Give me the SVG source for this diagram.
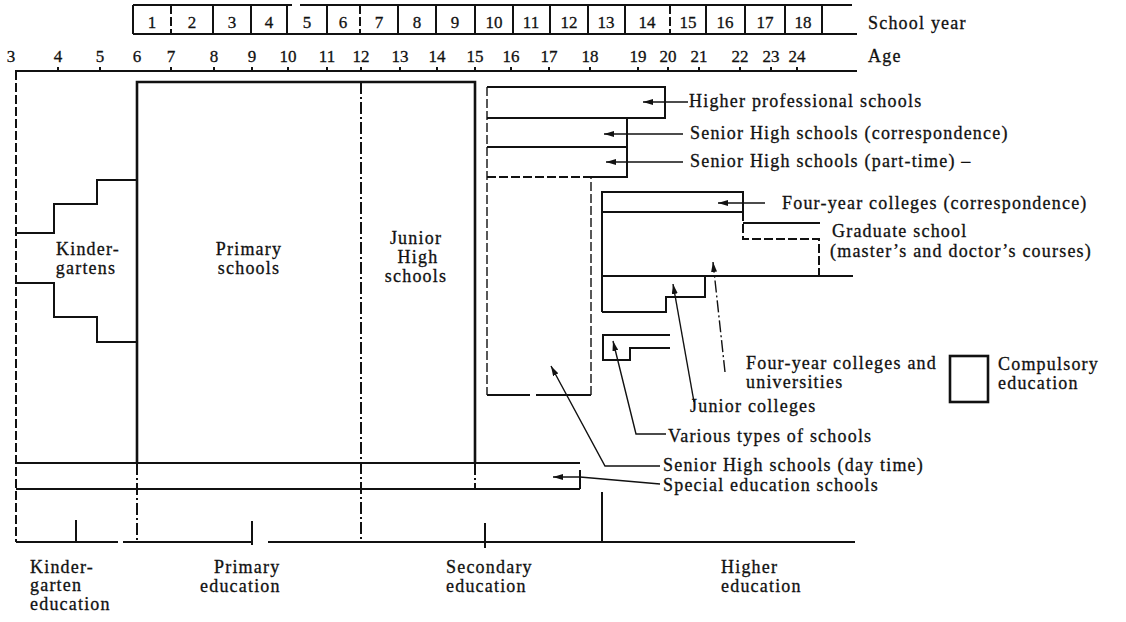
<svg xmlns="http://www.w3.org/2000/svg" width="1126" height="622" viewBox="0 0 1126 622">
<style>
.ln{stroke:#111;stroke-width:2;fill:none}
.tk{stroke:#111;stroke-width:2.6;fill:none}
.th{stroke:#111;stroke-width:1.4;fill:none}
.ds{stroke-dasharray:9 3}
.dd{stroke-dasharray:12 3 2 3}
.t{font-family:"Liberation Serif","Times New Roman",serif;font-size:18px;letter-spacing:1.2px;fill:#111;stroke:#111;stroke-width:0.3}
.n{font-family:"Liberation Serif","Times New Roman",serif;font-size:17px;fill:#111;stroke:#111;stroke-width:0.3;text-anchor:middle}
.c{text-anchor:middle}
</style>
<defs>
<marker id="ah" viewBox="0 0 10 6" refX="10" refY="3" markerWidth="10" markerHeight="6" markerUnits="userSpaceOnUse" orient="auto"><path d="M0,0 L10,3 L0,6 z" fill="#111"/></marker>
</defs>
<rect width="1126" height="622" fill="#fff"/>

<g id="school-year">
<path class="ln" d="M133,5 H292 M300,5 H852 M133,34 H857"/>
<path class="ln" d="M133,5 V34 M213,5 V34 M251,5 V34 M287,5 V34 M327,5 V34 M398,5 V34 M436,5 V34 M475,5 V34 M513,5 V34 M550,5 V34 M588,5 V34 M625,5 V34 M706,5 V34 M745,5 V34 M785,5 V34 M822,5 V34"/>
<path class="ln ds" d="M171,5 V34 M360,5 V34 M670,5 V34"/>
<text class="n" x="152" y="28">1</text><text class="n" x="192" y="28">2</text><text class="n" x="232" y="28">3</text><text class="n" x="269" y="28">4</text><text class="n" x="307" y="28">5</text><text class="n" x="343" y="28">6</text><text class="n" x="379" y="28">7</text><text class="n" x="417" y="28">8</text><text class="n" x="455" y="28">9</text><text class="n" x="494" y="28">10</text><text class="n" x="531" y="28">11</text><text class="n" x="569" y="28">12</text><text class="n" x="606" y="28">13</text><text class="n" x="647" y="28">14</text><text class="n" x="688" y="28">15</text><text class="n" x="725" y="28">16</text><text class="n" x="765" y="28">17</text><text class="n" x="803" y="28">18</text>
<text class="t" x="868" y="29">School year</text>
</g>

<g id="age">
<path class="ln" d="M15,71 H857"/>
<path class="ln" d="M58,67 V71 M100,67 V71 M171,67 V71 M214,67 V71 M252,67 V71 M288,67 V71 M327,67 V71 M361,67 V71 M400,67 V71 M437,67 V71 M475,67 V71 M511,67 V71 M549,67 V71 M590,67 V71 M638,67 V71 M668,67 V71 M699,67 V71 M740,67 V71 M771,67 V71 M797,67 V71"/>
<text class="n" x="11" y="62">3</text><text class="n" x="58" y="62">4</text><text class="n" x="100" y="62">5</text><text class="n" x="137" y="62">6</text><text class="n" x="171" y="62">7</text><text class="n" x="214" y="62">8</text><text class="n" x="252" y="62">9</text><text class="n" x="288" y="62">10</text><text class="n" x="327" y="62">11</text><text class="n" x="361" y="62">12</text><text class="n" x="400" y="62">13</text><text class="n" x="437" y="62">14</text><text class="n" x="475" y="62">15</text><text class="n" x="511" y="62">16</text><text class="n" x="549" y="62">17</text><text class="n" x="590" y="62">18</text><text class="n" x="638" y="62">19</text><text class="n" x="668" y="62">20</text><text class="n" x="699" y="62">21</text><text class="n" x="740" y="62">22</text><text class="n" x="771" y="62">23</text><text class="n" x="797" y="62">24</text>
<text class="t" x="868" y="62">Age</text>
</g>

<g id="kindergartens">
<path class="ln ds" d="M16,71 V542"/>
<path class="ln" d="M16,233 H54 V204 H97 V180 H137 M16,283 H54 V317 H97 V342 H137"/>
<text class="t c" x="88" y="255">Kinder-</text>
<text class="t c" x="86" y="274">gartens</text>
</g>

<g id="primary-schools">
<path class="tk" d="M137,463 V82 H475 V463"/>
<text class="t c" x="249" y="255">Primary</text>
<text class="t c" x="249" y="274">schools</text>
</g>

<g id="junior-high-schools">
<path class="ln dd" d="M361,82 V542"/>
<text class="t c" x="416" y="244">Junior</text>
<text class="t c" x="418" y="263">High</text>
<text class="t c" x="416" y="282">schools</text>
</g>

<g id="higher-professional-schools">
<path class="ln" d="M487,87 H665 V118 H487"/>
<text class="t" x="689" y="107">Higher professional schools</text>
</g>

<g id="senior-high-correspondence">
<path class="ln" d="M487,147 H627 M627,118 V177 H590"/>
<text class="t" x="690" y="139">Senior High schools (correspondence)</text>
</g>

<g id="senior-high-part-time">
<path class="ln ds" d="M487,177 H590"/>
<text class="t" x="690" y="167">Senior High schools (part-time) –</text>
</g>

<g id="senior-high-day-time">
<path class="th ds" d="M487,87 V395 M591,395 V177"/>
<path class="ln" d="M487,395 H530 M536,395 H591"/>
<text class="t" x="663" y="471">Senior High schools (day time)</text>
</g>

<g id="four-year-colleges-correspondence">
<path class="ln" d="M602,312 V192 H743 V212 H602"/>
<text class="t" x="782" y="209">Four-year colleges (correspondence)</text>
</g>

<g id="graduate-school">
<path class="ln ds" d="M743,212 V239 H819 V276"/>
<path class="ln" d="M743,223 H820"/>
<text class="t" x="832" y="237">Graduate school</text>
<text class="t" x="830" y="257">(master’s and doctor’s courses)</text>
</g>

<g id="four-year-colleges">
<path class="ln" d="M602,276 H853"/>
<text class="t" x="746" y="369">Four-year colleges and</text>
<text class="t" x="746" y="388">universities</text>
</g>

<g id="junior-colleges">
<path class="ln" d="M602,312 H666 V297 H705 V276"/>
<text class="t" x="690" y="412">Junior colleges</text>
</g>

<g id="various-schools">
<path class="ln" d="M670,335 H603 V360 H630 V348 H670"/>
<text class="t" x="668" y="442">Various types of schools</text>
</g>

<g id="special-education-schools">
<path class="ln" d="M16,463 H580 M16,489 H580 M580,470 V489"/>
<path class="ln dd" d="M137,463 V542 M475,463 V489"/>
<text class="t" x="663" y="491">Special education schools</text>
</g>

<g id="compulsory-legend">
<rect x="950" y="356" width="38" height="46" fill="none" stroke="#111" stroke-width="2.6"/>
<text class="t" x="998" y="370">Compulsory</text>
<text class="t" x="998" y="389">education</text>
</g>

<g id="stages">
<path class="ln" d="M16,542 H118 M123,542 H252 M268,542 H855"/>
<path class="ln" d="M76,520 V542 M252,521 V545 M485,523 V548 M602,492 V542"/>
<text class="t" x="30" y="573">Kinder-</text>
<text class="t" x="30" y="591">garten</text>
<text class="t" x="30" y="610">education</text>
<text class="t" x="214" y="573">Primary</text>
<text class="t" x="200" y="592">education</text>
<text class="t" x="446" y="573">Secondary</text>
<text class="t" x="446" y="592">education</text>
<text class="t" x="721" y="573">Higher</text>
<text class="t" x="721" y="592">education</text>
</g>

<g id="connectors">
<path class="th" marker-end="url(#ah)" d="M688,102 H643"/>
<path class="th" marker-end="url(#ah)" d="M683,134 H604"/>
<path class="th" marker-end="url(#ah)" d="M683,162 H606"/>
<path class="th" marker-end="url(#ah)" d="M765,203 H718"/>
<path class="th dd" marker-end="url(#ah)" d="M725,372 L713,262"/>
<path class="th" marker-end="url(#ah)" d="M694,402 L673,284"/>
<path class="th" marker-end="url(#ah)" d="M666,434 H636 L613,341"/>
<path class="th" marker-end="url(#ah)" d="M660,466 H605 L551,366"/>
<path class="th" marker-end="url(#ah)" d="M660,484 L580,477 H553"/>
</g>
</svg>
